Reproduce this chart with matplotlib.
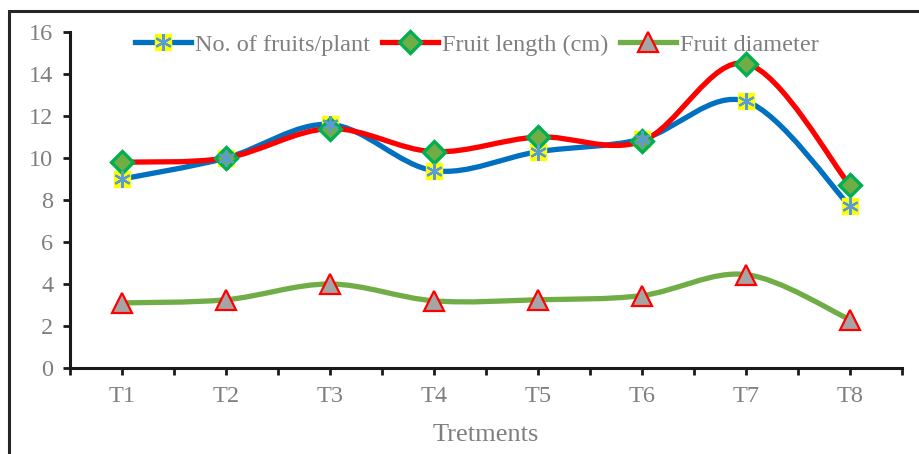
import matplotlib
matplotlib.use('Agg')
import matplotlib.pyplot as plt
from matplotlib.path import Path
from matplotlib.patches import PathPatch, Rectangle
from matplotlib.lines import Line2D
import numpy as np

plt.rcParams['font.family'] = ['Liberation Serif', 'DejaVu Serif']

treatments = ['T1', 'T2', 'T3', 'T4', 'T5', 'T6', 'T7', 'T8']
fruits_per_plant = [9.0, 10.0, 11.6, 9.4, 10.3, 10.9, 12.7, 7.7]
fruit_length = [9.8, 10.0, 11.4, 10.3, 11.0, 10.8, 14.5, 8.7]
fruit_diameter = [3.1, 3.25, 4.0, 3.2, 3.25, 3.45, 4.45, 2.3]

GRAY = '#7f7f7f'


def smooth_path(xs, ys):
    # cubic bezier through the points, catmull-rom style control points
    pts = np.column_stack([xs, ys]).astype(float)
    n = len(pts)
    verts = [pts[0]]
    codes = [Path.MOVETO]
    for i in range(n - 1):
        p0 = pts[i - 1] if i > 0 else pts[i]
        p1 = pts[i]
        p2 = pts[i + 1]
        p3 = pts[i + 2] if i + 2 < n else pts[i + 1]
        c1 = p1 + (p2 - p0) / 6.0
        c2 = p2 - (p3 - p1) / 6.0
        verts += [c1, c2, p2]
        codes += [Path.CURVE4] * 3
    return Path(verts, codes)


fig = plt.figure(figsize=(9.2, 4.54), dpi=100)
ax = fig.add_axes([0.0761, 0.1894, 0.9043, 0.7401])

x = np.arange(1, len(treatments) + 1)

series = [
    (fruits_per_plant, '#0070c0'),
    (fruit_length, '#ff0000'),
    (fruit_diameter, '#70ad47'),
]
for vals, col in series:
    ax.add_patch(PathPatch(smooth_path(x, vals), facecolor='none',
                           edgecolor=col, lw=3.8, capstyle='round', zorder=2))

# marker styles, shared by the plot and the legend
sq = dict(ls='none', marker='s', ms=12, mfc='#ffff00', mec='#ffff00')
star = dict(ls='none', marker=(6, 2, 0), ms=12, mec='#5b9bd5', mew=1.6)
dia = dict(ls='none', marker='D', ms=11, mfc='#70ad47', mec='#00b050', mew=2.4)
tri = dict(ls='none', marker='^', ms=14, mfc='#a5a5a5', mec='#ff0000', mew=1.6)

ax.plot(x, fruits_per_plant, zorder=3, **sq)
ax.plot(x, fruits_per_plant, zorder=4, **star)
ax.plot(x, fruit_length, zorder=3, **dia)
ax.plot(x, fruit_diameter, zorder=3, **tri)

ax.set_xlim(0.5, len(treatments) + 0.5)
ax.set_ylim(0, 16)
ax.set_yticks(np.arange(0, 17, 2))
xt = np.arange(0.5, len(treatments) + 0.51, 0.5)
ax.set_xticks(xt)
ax.set_xticklabels([treatments[int(t) - 1] if float(t).is_integer() else ''
                    for t in xt])

for s in ['top', 'right']:
    ax.spines[s].set_visible(False)
for s in ['left', 'bottom']:
    ax.spines[s].set_linewidth(2.2)
    ax.spines[s].set_color('#1a1a1a')
ax.tick_params(axis='both', direction='out', length=5, width=2,
               color='#1a1a1a', labelcolor=GRAY, labelsize=17.5)
ax.tick_params(axis='x', pad=8)
ax.tick_params(axis='y', pad=7)
ax.set_xlabel('Tretments', color=GRAY, fontsize=19, labelpad=12)

line_b = Line2D([], [], color='#0070c0', lw=3.8)
line_r = Line2D([], [], color='#ff0000', lw=3.8)
line_g = Line2D([], [], color='#70ad47', lw=3.8)
handles = [
    (line_b, Line2D([], [], **sq), Line2D([], [], **star)),
    (line_r, Line2D([], [], **dia)),
    (line_g, Line2D([], [], **tri)),
]
leg = ax.legend(handles, ['No. of fruits/plant', 'Fruit length (cm)', 'Fruit diameter'],
                ncol=3, loc='upper center', bbox_to_anchor=(0.489, 1.06),
                frameon=False, fontsize=17.5, handlelength=2.3,
                handletextpad=0.15, columnspacing=0.5, labelcolor=GRAY)

# outer chart frame
fig.add_artist(Rectangle((9.5 / 920, -0.1), 1.2, 1.1 - 11.5 / 454,
                         transform=fig.transFigure, fill=False,
                         edgecolor='#262626', lw=2.2, clip_on=False))

fig.savefig('out.png', dpi=100)
